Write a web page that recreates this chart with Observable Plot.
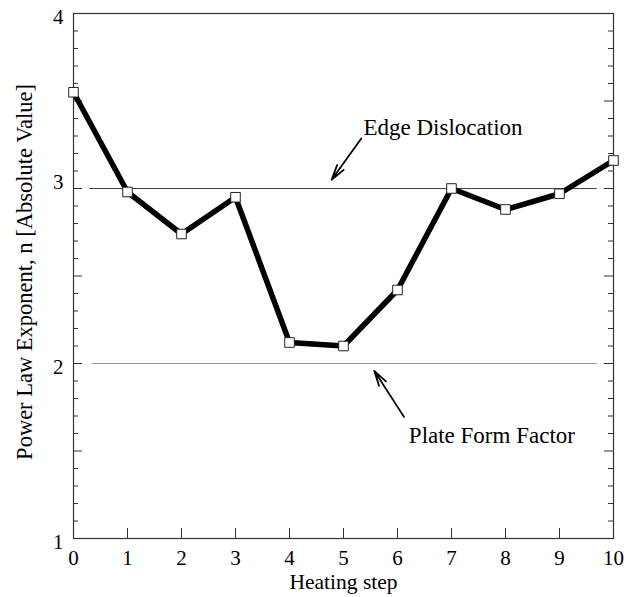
<!DOCTYPE html>
<html>
<head>
<meta charset="utf-8">
<script src="https://cdn.jsdelivr.net/npm/d3@7"></script>
<script src="https://cdn.jsdelivr.net/npm/@observablehq/plot@0.6"></script>
<style>
  html, body { margin: 0; padding: 0; background: #fff; }
  #chart { width: 636px; height: 597px; }
</style>
</head>
<body>
<div id="chart"></div>
<script>
// ---- data ----
const steps = [0, 1, 2, 3, 4, 5, 6, 7, 8, 9, 10];
const exponent = [3.55, 2.98, 2.74, 2.95, 2.12, 2.10, 2.42, 3.00, 2.88, 2.97, 3.16];

const xTickValues = [0, 1, 2, 3, 4, 5, 6, 7, 8, 9, 10];
const yTickLabels = [1, 2, 3, 4];
const yMajorTicks = [1.5, 2, 2.5, 3, 3.5];
const yMinorTicks = [1.1, 1.2, 1.3, 1.4, 1.6, 1.7, 1.8, 1.9, 2.1, 2.2, 2.3, 2.4,
                     2.6, 2.7, 2.8, 2.9, 3.1, 3.2, 3.3, 3.4, 3.6, 3.7, 3.8, 3.9];

const refLevels = [3, 2];
const refStart = [0.3, 0.35];
const refEnd = [9.7, 9.7];
const refColors = ["#444", "#999"];

const noteTexts = ["Edge Dislocation", "Plate Form Factor"];
const noteX = [5.37, 6.21];
const noteY = [3.35, 1.59];
const arrowX1 = [5.33, 6.12];
const arrowY1 = [3.286, 1.695];
const arrowX2 = [4.78, 5.57];
const arrowY2 = [3.05, 1.958];

const xLabel = "Heating step";
const yLabel = "Power Law Exponent, n [Absolute Value]";

// ---- tables built from the arrays ----
const series = steps.map((s, i) => ({step: s, n: exponent[i]}));
const refs = refLevels.map((v, i) => ({y: v, x1: refStart[i], x2: refEnd[i], c: refColors[i]}));
const notes = noteTexts.map((t, i) => ({t, x: noteX[i], y: noteY[i], x1: arrowX1[i], y1: arrowY1[i], x2: arrowX2[i], y2: arrowY2[i]}));

const W = 636, H = 597;
const mT = 13, mR = 23, mB = 59, mL = 73;
const pw = W - mL - mR, ph = H - mT - mB;
const font = "'Liberation Serif', 'Times New Roman', serif";

const chart = Plot.plot({
  width: W,
  height: H,
  marginTop: mT, marginRight: mR, marginBottom: mB, marginLeft: mL,
  style: {fontFamily: font, fontSize: "20px", background: "#fff", color: "#000"},
  x: {domain: [0, 10], axis: null},
  y: {domain: [1, 4], axis: null},
  marks: [
    // reference lines
    Plot.ruleY(refs, {y: "y", x1: "x1", x2: "x2", stroke: "c", strokeWidth: 1}),
    // frame
    Plot.frame({stroke: "#333", strokeWidth: 1.2}),
    // inside ticks, left and right
    Plot.tickY(yMinorTicks, {y: d => d, insetRight: pw - 5, stroke: "#333"}),
    Plot.tickY(yMajorTicks, {y: d => d, insetRight: pw - 9, stroke: "#333"}),
    Plot.tickY(yMinorTicks, {y: d => d, insetLeft: pw - 5, stroke: "#333"}),
    Plot.tickY(yMajorTicks, {y: d => d, insetLeft: pw - 9, stroke: "#333"}),
    Plot.tickX(xTickValues, {x: d => d, insetTop: ph - 10, stroke: "#333"}),
    // tick labels
    Plot.text(xTickValues, {x: d => d, frameAnchor: "bottom", dy: 20, lineAnchor: "middle", fontSize: 21}),
    Plot.text(yTickLabels.filter(v => v !== 3), {y: d => d, frameAnchor: "left", textAnchor: "end", dx: -10, dy: 4, lineAnchor: "middle", fontSize: 21}),
    Plot.text(yTickLabels.filter(v => v === 3), {y: d => d, frameAnchor: "left", textAnchor: "end", dx: -10, dy: -6, lineAnchor: "middle", fontSize: 21}),
    // axis titles
    Plot.text([xLabel], {text: d => d, frameAnchor: "bottom", dy: 44, textAnchor: "middle", lineAnchor: "middle", fontSize: 21.5}),
    Plot.text([yLabel], {text: d => d, frameAnchor: "left", dx: -49, dy: -4, rotate: -90, textAnchor: "middle", lineAnchor: "middle", fontSize: 22.5}),
    // data line and markers
    Plot.line(series, {x: "step", y: "n", stroke: "#000", strokeWidth: 5.5, strokeLinejoin: "miter"}),
    Plot.dot(series, {x: "step", y: "n", symbol: "square", r: 5.4, fill: "#fff", stroke: "#222", strokeWidth: 1}),
    // annotations
    Plot.arrow(notes, {x1: "x1", y1: "y1", x2: "x2", y2: "y2", stroke: "#000", strokeWidth: 1.8, headLength: 13, headAngle: 30}),
    Plot.text(notes, {x: "x", y: "y", text: "t", textAnchor: "start", lineAnchor: "middle", fontSize: 23})
  ]
});

document.getElementById("chart").appendChild(chart);
</script>
</body>
</html>
